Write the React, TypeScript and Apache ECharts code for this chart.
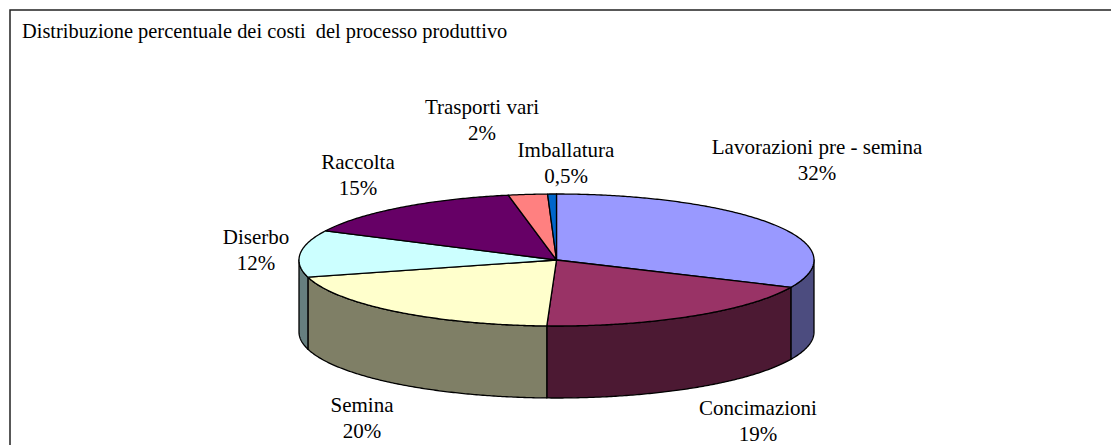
import React, { useEffect, useRef } from "react";
import * as echarts from "echarts";

const titleText = "Distribuzione percentuale dei costi  del processo produttivo";
const categories = ["Lavorazioni pre - semina", "Concimazioni", "Semina", "Diserbo", "Raccolta", "Trasporti vari", "Imballatura"];
const shareLabels = ["32%", "19%", "20%", "12%", "15%", "2%", "0,5%"];
const values = [31.8, 18.8, 20.2, 11.5, 14.7, 2.45, 0.55];
const topColors = ["#9999FF", "#993366", "#FFFFCC", "#CCFFFF", "#660066", "#FF8080", "#0066CC"];
const wallColors = ["#4C4C7F", "#4C1933", "#7F7F66", "#667F7F", "#330033", "#7F4040", "#003366"];
const labelCentres = [[817, 160], [758, 421], [362, 418], [256, 250], [358, 175], [482, 120], [566, 163]];

const cx = 556.5, cy = 260, rx = 257.5, ry = 66, depth = 72;
const total = values.reduce((a, b) => a + b, 0);
const font = '"Liberation Serif", "Times New Roman", serif';
const fontSize = 21;

const pt = (deg: number, dy = 0) => {
  const a = (deg * Math.PI) / 180;
  return [cx + rx * Math.sin(a), cy - ry * Math.cos(a) + dy];
};
const arc = (a: number, b: number, dy = 0) => {
  const out: number[][] = [];
  const n = Math.max(2, Math.ceil((b - a) / 0.5));
  for (let i = 0; i <= n; i++) out.push(pt(a + ((b - a) * i) / n, dy));
  return out;
};

export default function App() {
  const ref = useRef<HTMLDivElement>(null);
  useEffect(() => {
    const chart = echarts.init(ref.current!, null, { renderer: "svg" });
    const starts: number[] = [];
    let acc = 0;
    values.forEach((v) => {
      starts.push((acc / total) * 360);
      acc += v;
    });
    const stroke = { stroke: "#000", lineWidth: 1.3, lineJoin: "round" };

    chart.setOption({
      animation: false,
      backgroundColor: "#fff",
      title: {
        text: titleText,
        left: 17,
        top: 16,
        textStyle: { fontFamily: font, fontSize: 20.4, fontWeight: "normal", color: "#000" },
      },
      graphic: [
        { type: "polyline", silent: true, shape: { points: [[10, 445], [10, 10], [1111, 10]] }, style: { stroke: "#222", lineWidth: 1.5, fill: "none" } },
      ],
      series: [
        {
          type: "custom",
          coordinateSystem: "none",
          silent: true,
          data: values,
          renderItem: (params: any, api: any) => {
            const i = params.dataIndex;
            const a = starts[i];
            const b = a + (api.value(0) / total) * 360;
            const children: any[] = [];
            const wa = Math.max(a, 90), wb = Math.min(b, 270);
            if (wb > wa) {
              children.push({
                type: "polygon",
                shape: { points: [...arc(wa, wb), ...arc(wa, wb, depth).reverse()] },
                style: { fill: wallColors[i], ...stroke },
              });
            }
            children.push({
              type: "polygon",
              shape: { points: [[cx, cy], ...arc(a, b)] },
              style: { fill: topColors[i], ...stroke },
            });
            children.push({
              type: "text",
              style: {
                x: labelCentres[i][0],
                y: labelCentres[i][1],
                text: categories[i] + "\n" + shareLabels[i],
                fill: "#000",
                font: `${fontSize}px ${font}`,
                lineHeight: 26,
                align: "center",
                verticalAlign: "middle",
              },
            });
            return { type: "group", children };
          },
        },
      ],
    });
    return () => chart.dispose();
  }, []);
  return <div ref={ref} style={{ position: "fixed", left: 0, top: 0, width: 1111, height: 445 }} />;
}
